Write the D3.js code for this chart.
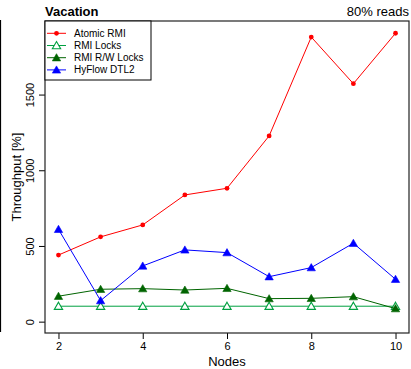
<!DOCTYPE html>
<html>
<head>
<meta charset="utf-8">
<script src="https://cdn.jsdelivr.net/npm/d3@7"></script>
<style>
  body { margin: 0; background: #fff; }
  text { font-family: "Liberation Sans", Arial, sans-serif; }
</style>
</head>
<body>
<div id="chart"></div>
<script>
const nodes = [2, 3, 4, 5, 6, 7, 8, 9, 10]
const atomicRmi = [440, 560, 639, 837, 881, 1227, 1880, 1572, 1905]
const rmiLocks = [102, 102, 102, 102, 102, 102, 102, 102, 102]
const rmiRwLocks = [168, 214, 218, 209, 220, 152, 154, 165, 86]
const hyflow = [610, 139, 368, 474, 456, 297, 357, 518, 280]
const yTicks = [0, 500, 1000, 1500]
const xTicks = [2, 4, 6, 8, 10]

const series = [
  { name: 'Atomic RMI', values: atomicRmi, color: '#ff0000', shape: 'dot' },
  { name: 'RMI Locks', values: rmiLocks, color: '#00a040', shape: 'open' },
  { name: 'RMI R/W Locks', values: rmiRwLocks, color: '#006400', shape: 'tri' },
  { name: 'HyFlow DTL2', values: hyflow, color: '#0000ff', shape: 'tri' }
]

const dimensions = {
  width: 411,
  height: 369,
  margin: { top: 21, right: 2, bottom: 36, left: 45 }
}
const innerW = dimensions.width - dimensions.margin.left - dimensions.margin.right
const innerH = dimensions.height - dimensions.margin.top - dimensions.margin.bottom

const svg = d3.select('#chart').append('svg')
  .attr('width', dimensions.width)
  .attr('height', dimensions.height)

// leftover edge of the neighbouring panel
svg.append('line')
  .attr('x1', 0.5).attr('x2', 0.5)
  .attr('y1', 20).attr('y2', 332)
  .attr('stroke', '#000').attr('stroke-width', 1.2)

const bounds = svg.append('g')
  .attr('transform', `translate(${dimensions.margin.left}, ${dimensions.margin.top})`)

const xScale = d3.scaleLinear()
  .domain([1.68, 10.32])
  .range([0, innerW])
const yScale = d3.scaleLinear()
  .domain([-75, 1986])
  .range([innerH, 0])

// axes
const xAxis = bounds.append('g')
  .attr('transform', `translate(0, ${innerH})`)
  .call(d3.axisBottom(xScale).tickValues(xTicks).tickSize(6).tickPadding(3))
xAxis.select('.domain').remove()
xAxis.selectAll('text').attr('font-size', 11).attr('fill', '#000')

const yAxis = bounds.append('g')
  .call(d3.axisLeft(yScale).tickValues(yTicks).tickSize(6).tickFormat(d3.format('d')))
yAxis.select('.domain').remove()
yAxis.selectAll('text')
  .attr('font-size', 11).attr('fill', '#000')
  .attr('x', null).attr('dy', null)
  .attr('transform', 'translate(-11, 0) rotate(-90)')
  .attr('text-anchor', 'middle')
yAxis.selectAll('line').attr('stroke', '#000')
xAxis.selectAll('line').attr('stroke', '#000')

bounds.append('rect')
  .attr('x', 0).attr('y', 0)
  .attr('width', innerW).attr('height', innerH)
  .attr('fill', 'none').attr('stroke', '#222').attr('stroke-width', 1.2)

// lines
const line = d3.line()
  .x((d, i) => xScale(nodes[i]))
  .y(d => yScale(d))

const triPath = d3.symbol().type(d3.symbolTriangle).size(30)

function drawMarker (g, s, x, y) {
  if (s.shape === 'dot') {
    g.append('circle').attr('cx', x).attr('cy', y).attr('r', 2.4).attr('fill', s.color)
  } else {
    g.append('path')
      .attr('d', triPath())
      .attr('transform', `translate(${x}, ${y + 0.8})`)
      .attr('fill', s.shape === 'open' ? '#fff' : s.color)
      .attr('stroke', s.color)
      .attr('stroke-width', s.shape === 'open' ? 1.1 : 0.6)
  }
}

series.forEach(s => {
  const g = bounds.append('g')
  g.append('path')
    .datum(s.values)
    .attr('fill', 'none')
    .attr('stroke', s.color)
    .attr('stroke-width', 1)
    .attr('d', line)
  s.values.forEach((v, i) => drawMarker(g, s, xScale(nodes[i]), yScale(v)))
})

// legend
const legend = bounds.append('g')
legend.append('rect')
  .attr('x', 0).attr('y', 0).attr('width', 106).attr('height', 59)
  .attr('fill', '#fff').attr('stroke', '#000').attr('stroke-width', 1)
series.forEach((s, i) => {
  const y = 12.3 + i * 12.2
  legend.append('line')
    .attr('x1', 2).attr('x2', 21).attr('y1', y).attr('y2', y)
    .attr('stroke', s.color).attr('stroke-width', 1)
  drawMarker(legend, s, 11.5, y)
  legend.append('text')
    .attr('x', 29).attr('y', y + 3.5)
    .attr('font-size', 10)
    .text(s.name)
})

// titles
svg.append('text')
  .attr('x', 45).attr('y', 16)
  .attr('font-size', 13).attr('font-weight', 'bold')
  .text('Vacation')
svg.append('text')
  .attr('x', 409).attr('y', 16)
  .attr('text-anchor', 'end')
  .attr('font-size', 13)
  .text('80% reads')

svg.append('text')
  .attr('x', 227).attr('y', 366)
  .attr('text-anchor', 'middle')
  .attr('font-size', 13)
  .text('Nodes')
svg.append('text')
  .attr('transform', `translate(21, ${dimensions.margin.top + innerH / 2}) rotate(-90)`)
  .attr('text-anchor', 'middle')
  .attr('font-size', 13)
  .text('Throughput [%]')
</script>
</body>
</html>
